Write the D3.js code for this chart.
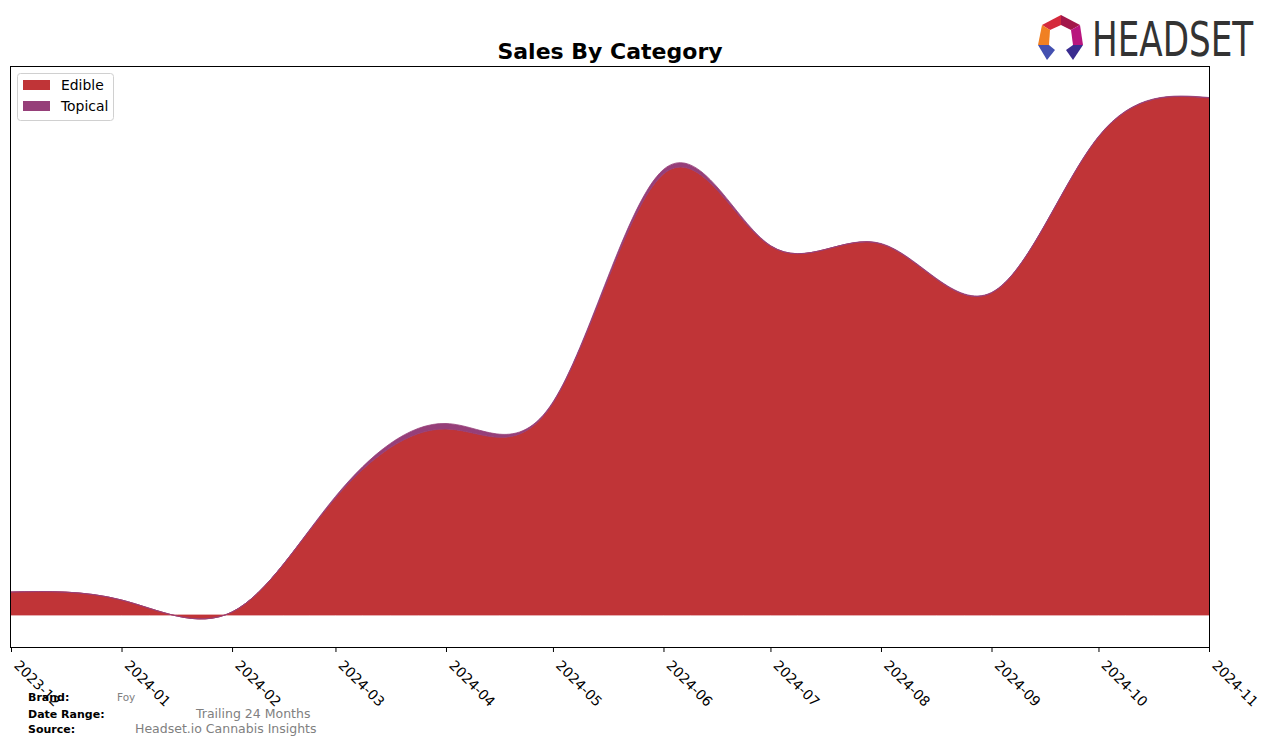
<!DOCTYPE html>
<html>
<head>
<meta charset="utf-8">
<script src="https://cdn.jsdelivr.net/npm/d3@7"></script>
<style>
  html, body { margin: 0; padding: 0; background: #fff; }
  svg { display: block; font-family: "DejaVu Sans", sans-serif; }
</style>
</head>
<body>
<svg id="chart" width="1276" height="746"></svg>
<script>
// ---- data ----
const months = ["2023-12","2024-01","2024-02","2024-03","2024-04","2024-05","2024-06","2024-07","2024-08","2024-09","2024-10","2024-11"];
const edible  = [23, 15, 3, 117, 186, 212, 441, 369, 371, 322, 478, 517];
const topical = [0, 0, 0, 1.5, 5.5, 1, 4.5, 0.5, 0.5, 0.5, 0.5, 0.5];
const seriesNames = ["Edible", "Topical"];
const seriesColors = ["#c03437", "#963f79"];
const tickLabels = months;

const svg = d3.select("#chart");
const plot = {left: 11, right: 1209, top: 67, bottom: 647};

const parse = d3.utcParse("%Y-%m");
const rows = months.map((m, i) => ({date: parse(m), Edible: edible[i], Topical: topical[i]}));

const x = d3.scaleUtc().domain(d3.extent(rows, d => d.date)).range([plot.left, plot.right]);
const y = d3.scaleLinear().domain([-32, 548]).range([plot.bottom, plot.top]);

const stacked = d3.stack().keys(seriesNames)(rows);

svg.append("defs").append("clipPath").attr("id", "clip")
  .append("rect").attr("x", plot.left).attr("y", plot.top)
  .attr("width", plot.right - plot.left).attr("height", plot.bottom - plot.top);

const area = d3.area()
  .x(d => x(d.data.date))
  .y0(d => y(d[0]))
  .y1(d => y(d[1]))
  .curve(d3.curveNatural);

const g = svg.append("g").attr("clip-path", "url(#clip)");
stacked.forEach((s, i) => {
  g.append("path").datum(s)
    .attr("d", area)
    .attr("fill", seriesColors[i])
    .attr("stroke", seriesColors[i])
    .attr("stroke-width", 0.8);
});

// frame
svg.append("rect").attr("x", plot.left - 0.5).attr("y", plot.top - 0.5)
  .attr("width", plot.right - plot.left + 1).attr("height", plot.bottom - plot.top + 1)
  .attr("fill", "none").attr("stroke", "#000").attr("stroke-width", 1);

// x axis
const xAxis = d3.axisBottom(x)
  .tickValues(rows.map(d => d.date))
  .tickFormat((d, i) => tickLabels[i])
  .tickSize(5).tickSizeOuter(0);
const ax = svg.append("g").attr("transform", `translate(0,${plot.bottom})`).call(xAxis);
ax.select(".domain").remove();
ax.selectAll(".tick line").attr("stroke", "#000");
ax.selectAll(".tick text")
  .attr("font-family", "DejaVu Sans, sans-serif")
  .attr("font-size", 13.9)
  .attr("fill", "#000")
  .attr("text-anchor", "start")
  .attr("dy", null)
  .attr("y", 0)
  .attr("transform", "translate(9,12) rotate(45)")
  .attr("dominant-baseline", "hanging");

// title
svg.append("text").attr("x", 610).attr("y", 59)
  .attr("text-anchor", "middle").attr("font-size", 22).attr("font-weight", "bold")
  .text("Sales By Category");

// legend
const lg = svg.append("g");
lg.append("rect").attr("x", 17.5).attr("y", 73.5).attr("width", 96).attr("height", 47)
  .attr("rx", 3).attr("fill", "#fff").attr("stroke", "#d0d0d0");
seriesNames.forEach((n, i) => {
  lg.append("rect").attr("x", 23).attr("y", 80 + i * 21).attr("width", 27).attr("height", 10)
    .attr("fill", seriesColors[i]);
  lg.append("text").attr("x", 61).attr("y", 90 + i * 21).attr("font-size", 13.9).text(n);
});

// footer
const foot = [
  {label: "Brand:", value: "Foy", y: 701, vx: 117, vs: 10.5},
  {label: "Date Range:", value: "Trailing 24 Months", y: 718, vx: 196, vs: 12.5},
  {label: "Source:", value: "Headset.io Cannabis Insights", y: 733, vx: 135, vs: 12.5}
];
foot.forEach(f => {
  svg.append("text").attr("x", 28).attr("y", f.y).attr("font-size", 11).attr("font-weight", "bold").text(f.label);
  svg.append("text").attr("x", f.vx).attr("y", f.y).attr("font-size", f.vs).attr("fill", "#808080").text(f.value);
});

// logo
const logo = svg.append("g");
const facets = [
  {c: "#d42a3c", p: [[1042,25],[1061,15],[1061,25],[1050,30]]},
  {c: "#a3174a", p: [[1061,15],[1080,25],[1071,30],[1061,25]]},
  {c: "#b8157e", p: [[1080,25],[1083,45],[1073,45],[1071,30]]},
  {c: "#f08023", p: [[1042,25],[1050,30],[1049,45],[1038,45]]},
  {c: "#4350b0", p: [[1038,45],[1049,45],[1055,50],[1047,60]]},
  {c: "#3a2c90", p: [[1073,45],[1083,45],[1073,60],[1066,50]]}
];
facets.forEach(f => logo.append("polygon").attr("points", f.p.map(q => q.join(",")).join(" ")).attr("fill", f.c));
logo.append("text").attr("transform", "translate(1092,56) scale(1,1.28)")
  .attr("font-family", "DejaVu Sans Condensed, DejaVu Sans, sans-serif")
  .attr("font-stretch", "condensed")
  .attr("font-size", 38).attr("fill", "#333")
  .text("HEADSET");
</script>
</body>
</html>
